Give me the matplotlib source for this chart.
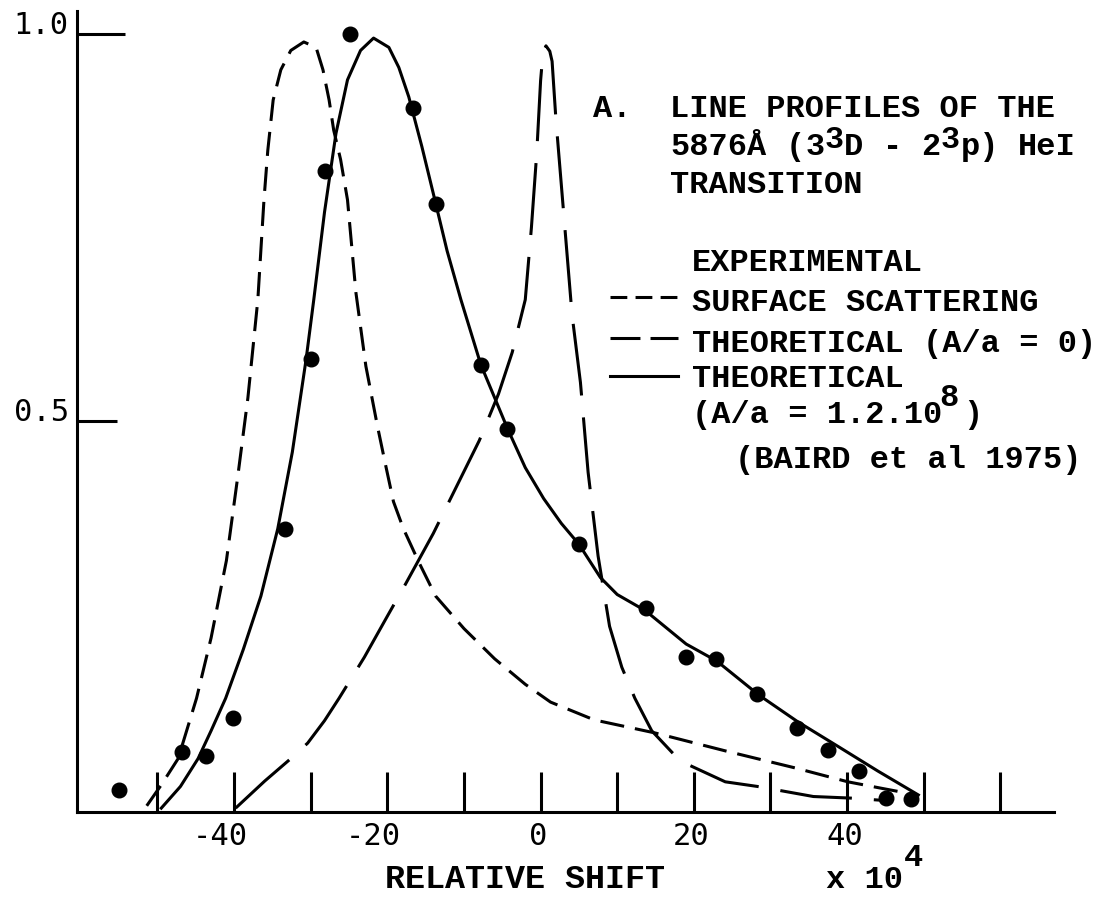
import matplotlib
matplotlib.use('Agg')
import matplotlib.pyplot as plt
from matplotlib.lines import Line2D

W, H = 1099, 900

# experimental points: relative shift (x 10^4) and normalised intensity
exp_x = [-55.0, -46.8, -43.7, -40.2, -33.4, -30.0, -28.2, -24.9, -16.6, -13.6, -7.8,
         -4.4, 5.0, 13.7, 19.0, 22.9, 28.3, 33.5, 37.5, 41.5, 45.1, 48.4]
exp_y = [0.023, 0.072, 0.067, 0.116, 0.361, 0.580, 0.823, 1.000, 0.905, 0.780, 0.572,
         0.490, 0.341, 0.259, 0.195, 0.193, 0.148, 0.103, 0.075, 0.048, 0.013, 0.012]

# surface scattering profile
surf_x = [-51.4, -49.5, -47.3, -44.9, -43.0, -41.0, -39.5, -38.2, -36.9, -36.1, -35.6,
          -34.9, -33.9, -32.6, -30.9, -29.3, -28.4, -27.6, -27.0, -26.1, -25.2, -24.1,
          -22.8, -21.3, -20.2, -19.2, -17.9, -15.9, -13.7, -10.0, -6.0, -2.0, 1.3,
          7.0, 15.0, 24.1, 33.2, 40.1, 44.3, 47.5]
surf_y = [0.003, 0.030, 0.064, 0.142, 0.220, 0.320, 0.430, 0.530, 0.657, 0.786, 0.850,
          0.915, 0.954, 0.979, 0.990, 0.983, 0.954, 0.915, 0.876, 0.838, 0.786, 0.666,
          0.571, 0.494, 0.442, 0.396, 0.361, 0.318, 0.274, 0.232, 0.193, 0.160, 0.137,
          0.114, 0.097, 0.074, 0.052, 0.034, 0.026, 0.020]

# theoretical profile, A/a = 0
th0_x = [-39.8, -36.0, -32.6, -30.4, -28.2, -26.3, -23.0, -20.0, -17.6, -14.0, -11.0,
         -8.0, -5.5, -3.7, -2.0, -1.2, -0.5, 0.0, 0.3, 0.7, 1.2, 1.5, 2.0, 2.5, 3.0,
         4.1, 5.2, 6.2, 7.5, 9.0, 10.6, 12.3, 14.5, 18.2, 24.1, 28.3, 35.6, 40.4, 44.7]
th0_y = [0.000, 0.035, 0.064, 0.084, 0.113, 0.142, 0.195, 0.248, 0.290, 0.355, 0.415,
         0.475, 0.535, 0.589, 0.657, 0.750, 0.847, 0.940, 0.975, 0.985, 0.978, 0.965,
         0.890, 0.830, 0.770, 0.638, 0.550, 0.434, 0.326, 0.235, 0.182, 0.142, 0.100,
         0.061, 0.034, 0.028, 0.015, 0.013, 0.010]

# theoretical profile, A/a = 1.2e8
th1_x = [-49.5, -47.0, -44.7, -43.0, -41.1, -38.8, -36.5, -34.3, -32.4, -30.6, -29.6,
         -28.2, -26.7, -25.2, -23.5, -21.8, -19.8, -18.5, -17.2, -15.5, -13.9, -12.2,
         -10.4, -7.8, -5.9, -4.3, -2.0, 0.4, 2.7, 5.0, 7.8, 10.0, 13.7, 19.0, 23.0,
         28.5, 33.5, 39.1, 44.0, 49.3]
th1_y = [0.000, 0.028, 0.064, 0.100, 0.142, 0.205, 0.274, 0.361, 0.460, 0.580, 0.657,
         0.770, 0.872, 0.941, 0.979, 0.995, 0.983, 0.957, 0.919, 0.855, 0.790, 0.720,
         0.657, 0.573, 0.528, 0.490, 0.440, 0.400, 0.368, 0.341, 0.298, 0.276, 0.255,
         0.212, 0.190, 0.146, 0.112, 0.078, 0.048, 0.017]

x_ticks = list(range(-50, 61, 10))
x_labels = [-40, -20, 0, 20, 40]
y_ticks = [0.5, 1.0]
y_labels = ['0.5', '1.0']

TYPE = 'Liberation Mono'
NUMS = 'DejaVu Sans Mono'
LW = 2.2

fig = plt.figure(figsize=(W / 100, H / 100), dpi=100)
ax = fig.add_axes([77 / W, 88 / H, 977 / W, 801 / H])
ax.set_xlim(-60.5, 67)
ax.set_ylim(-0.005, 1.03)

for side in ('top', 'right'):
    ax.spines[side].set_visible(False)
for side in ('left', 'bottom'):
    ax.spines[side].set_linewidth(LW)

ax.set_xticks(x_ticks)
ax.set_xticklabels([])
ax.tick_params(axis='x', direction='in', length=29, width=LW)

ax.set_yticks(y_ticks)
ax.set_yticklabels(y_labels, fontfamily=NUMS, fontsize=22)
ax.tick_params(axis='y', direction='in', length=31, width=LW, pad=6)
for tick, ln in zip(ax.yaxis.get_major_ticks(), [28.8, 34.6]):
    tick.tick1line.set_markersize(ln)
for lab in ax.get_yticklabels():
    lab.set_va('baseline')

# numbers under the x axis, digits centred on the tick
for v in x_labels:
    dx = -10 if v < 0 else -2
    ax.annotate(str(v), xy=(v, 0), xycoords=('data', 'axes fraction'),
                xytext=(dx, -7), textcoords='offset points',
                ha='center', va='top', fontsize=22, fontfamily=NUMS)

ax.plot(surf_x, surf_y, color='k', lw=LW, linestyle=(0, (7.9, 3.6)),
        dash_capstyle='butt', clip_on=False)
ax.plot(th0_x, th0_y, color='k', lw=LW, linestyle=(0, (23.6, 7.2)),
        dash_capstyle='butt', clip_on=False)
ax.plot(th1_x, th1_y, color='k', lw=LW, clip_on=False)
ax.plot(exp_x, exp_y, 'o', color='k', ms=10.5, zorder=5, clip_on=False)


def fx(px):
    return px / W


def fy(py):
    return 1 - py / H


def put(px, py, s, size=23):
    fig.text(fx(px), fy(py), s, fontsize=size, fontfamily=TYPE,
             fontweight='bold', ha='left', va='baseline')


ADV = 19.35  # typewriter column width in pixels
c0 = 670

put(593, 117, 'A.')
put(c0, 117, 'LINE PROFILES OF THE')
line2 = [(0, '5876'), (4, 'Å'), (6, '('), (7, '3'), (9, 'D'), (11, '-'),
         (13, '2'), (15, 'p)'), (18, 'HeI')]
for col, s in line2:
    put(c0 + col * ADV, 155, s)
for col in (8, 14):
    put(c0 + col * ADV, 148, '3')
put(c0, 193, 'TRANSITION')

put(692, 271, 'EXPERIMENTAL')
put(692, 311, 'SURFACE SCATTERING')
put(692, 352, 'THEORETICAL (A/a = 0)')
put(692, 387, 'THEORETICAL')
put(692, 423, '(A/a = 1.2.10')
put(692 + 12.8 * ADV, 406, '8')
put(692 + 14 * ADV, 423, ')')
put(735, 468, '(BAIRD et al 1975)')

# legend keys
keys = [(297, (0, (5.5, 2.7))), (338, (0, (9.8, 3.3))), (376, '-')]
for py, ls in keys:
    fig.add_artist(Line2D([fx(610), fx(678)], [fy(py), fy(py)], transform=fig.transFigure,
                          color='k', lw=LW, linestyle=ls, dash_capstyle='butt'))

put(385, 888, 'RELATIVE SHIFT', size=24)
put(826, 888, 'x 10', size=23)
put(826 + 4 * ADV, 866, '4', size=23)

fig.savefig('out.png', dpi=100, facecolor='white')
